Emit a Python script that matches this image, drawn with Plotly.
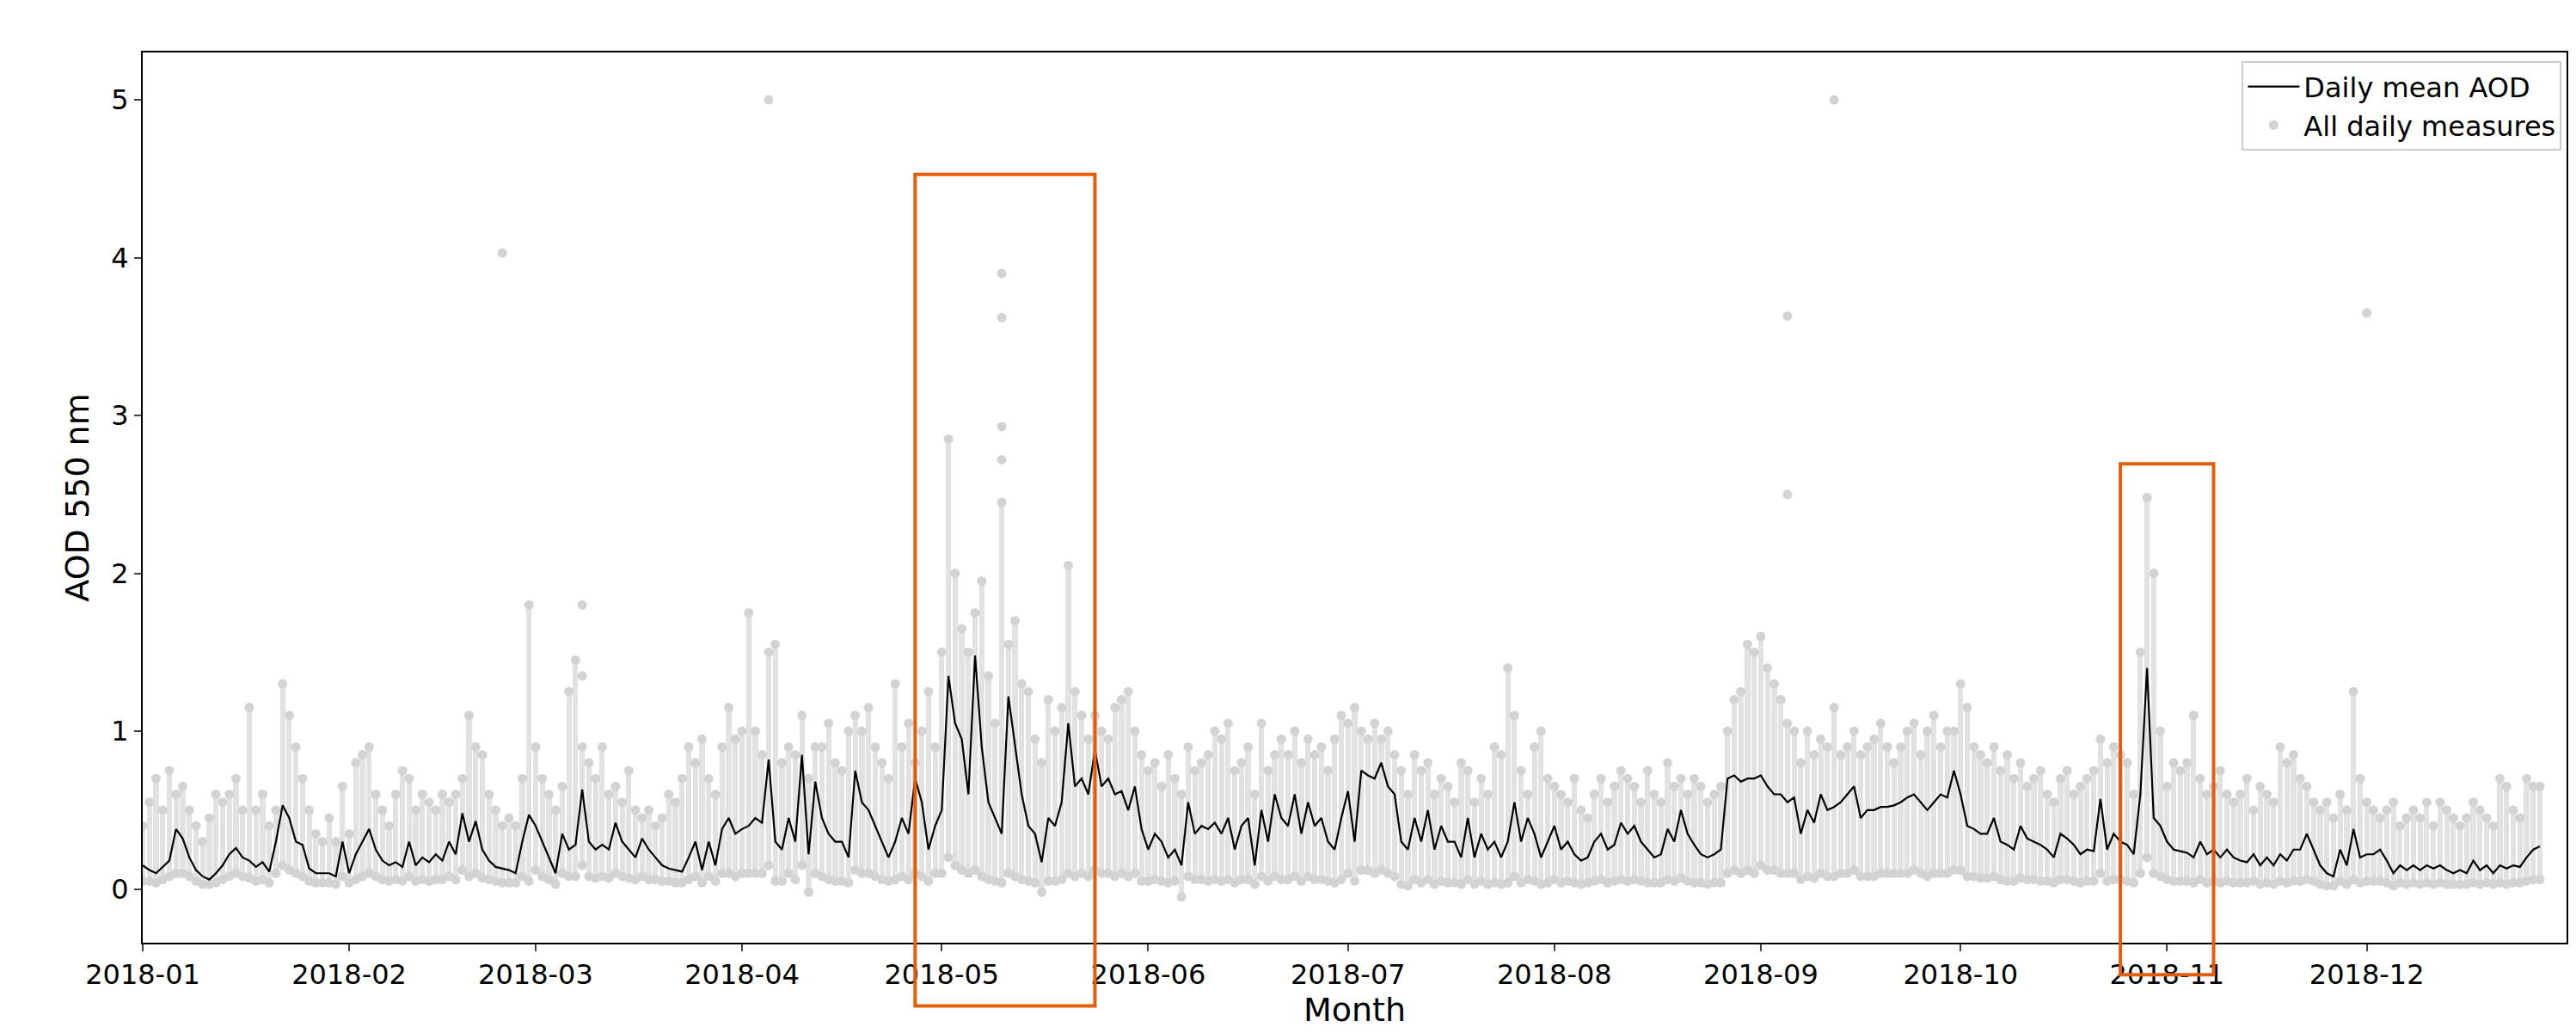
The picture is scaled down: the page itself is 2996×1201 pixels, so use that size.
import numpy as np
import pandas as pd
import plotly.graph_objects as go

# daily mean AOD, month by month
mean_jan = [0.15,0.12,0.10,0.14,0.18,0.38,0.32,0.2,0.12,0.08,0.06,0.1,0.15,0.22,0.26,0.2,0.18,0.14,0.17,0.11,0.3,0.53,0.45,0.3,0.28,0.13,0.1,0.1,0.1,0.08,0.3]
mean_feb = [0.1,0.22,0.3,0.38,0.25,0.18,0.15,0.17,0.14,0.3,0.15,0.2,0.17,0.22,0.18,0.3,0.22,0.48,0.3,0.43,0.25,0.18,0.14,0.13,0.12,0.1,0.3,0.47]
mean_mar = [0.4,0.3,0.2,0.1,0.35,0.25,0.28,0.63,0.3,0.25,0.28,0.25,0.42,0.3,0.25,0.2,0.32,0.25,0.2,0.15,0.13,0.12,0.11,0.2,0.3,0.12,0.3,0.15,0.38,0.45,0.35]
mean_apr = [0.38,0.4,0.45,0.42,0.82,0.3,0.25,0.45,0.3,0.85,0.22,0.68,0.45,0.35,0.3,0.3,0.2,0.75,0.55,0.5,0.4,0.3,0.2,0.3,0.45,0.35,0.7,0.55,0.25,0.4]
mean_may = [0.5,1.35,1.05,0.95,0.6,1.48,0.9,0.55,0.45,0.35,1.22,0.9,0.6,0.4,0.35,0.17,0.45,0.4,0.55,1.05,0.65,0.7,0.6,0.88,0.65,0.7,0.6,0.62,0.5,0.65,0.38]
mean_jun = [0.25,0.35,0.3,0.2,0.25,0.15,0.55,0.35,0.4,0.38,0.42,0.35,0.45,0.25,0.4,0.45,0.15,0.5,0.3,0.6,0.45,0.4,0.6,0.35,0.55,0.4,0.45,0.3,0.25,0.45]
mean_jul = [0.62,0.3,0.75,0.72,0.7,0.8,0.65,0.6,0.3,0.25,0.45,0.3,0.5,0.25,0.4,0.3,0.3,0.2,0.45,0.2,0.35,0.25,0.3,0.2,0.3,0.55,0.3,0.45,0.35,0.2,0.3]
mean_aug = [0.4,0.25,0.3,0.22,0.18,0.2,0.3,0.35,0.25,0.28,0.42,0.35,0.4,0.3,0.25,0.2,0.22,0.38,0.3,0.5,0.35,0.28,0.22,0.2,0.22,0.25,0.7,0.72,0.68,0.7,0.7]
mean_sep = [0.72,0.65,0.6,0.6,0.55,0.58,0.35,0.5,0.42,0.6,0.5,0.52,0.55,0.6,0.65,0.45,0.5,0.5,0.52,0.52,0.53,0.55,0.58,0.6,0.55,0.5,0.55,0.6,0.58,0.75]
mean_oct = [0.6,0.4,0.38,0.35,0.35,0.45,0.3,0.28,0.25,0.4,0.32,0.3,0.28,0.25,0.2,0.35,0.32,0.28,0.22,0.25,0.24,0.57,0.25,0.35,0.3,0.28,0.22,0.6,1.4,0.45,0.4]
mean_nov = [0.3,0.25,0.24,0.23,0.2,0.3,0.22,0.25,0.2,0.25,0.2,0.18,0.17,0.22,0.15,0.2,0.15,0.22,0.18,0.25,0.25,0.35,0.25,0.15,0.1,0.08,0.25,0.15,0.38,0.2]
mean_dec = [0.22,0.22,0.25,0.18,0.1,0.15,0.12,0.15,0.12,0.15,0.13,0.15,0.12,0.1,0.12,0.1,0.18,0.12,0.15,0.1,0.15,0.13,0.15,0.14,0.2,0.25,0.27]

# highest of the daily measures
high_jan = [0.4,0.55,0.7,0.5,0.75,0.6,0.65,0.5,0.4,0.3,0.45,0.6,0.55,0.6,0.7,0.5,1.15,0.5,0.6,0.4,0.5,1.3,1.1,0.9,0.7,0.5,0.35,0.3,0.45,0.3,0.65]
high_feb = [0.35,0.8,0.85,0.9,0.6,0.5,0.4,0.6,0.75,0.7,0.5,0.6,0.55,0.5,0.6,0.55,0.6,0.7,1.1,0.9,0.85,0.6,0.5,0.4,0.45,0.4,0.7,1.8]
high_mar = [0.9,0.7,0.6,0.5,0.65,1.25,1.45,0.9,0.8,0.7,0.9,0.6,0.65,0.55,0.75,0.5,0.45,0.5,0.4,0.45,0.6,0.55,0.7,0.9,0.8,0.95,0.7,0.6,0.9,1.15,0.95]
high_apr = [1.0,1.75,1.0,0.85,1.5,1.55,0.8,0.9,0.85,1.1,0.7,0.9,0.9,1.05,0.8,0.75,1.0,1.1,1.0,1.15,0.9,0.8,0.7,1.3,0.9,1.05,0.8,1.0,1.25,0.9]
high_may = [1.5,2.85,2.0,1.65,1.5,1.75,1.95,1.35,1.05,2.45,1.55,1.7,1.3,1.25,0.95,0.8,1.2,1.0,1.15,2.05,1.25,1.1,0.95,1.1,1.0,0.95,1.15,1.2,1.25,1.0,0.85]
high_jun = [0.75,0.8,0.65,0.85,0.7,0.6,0.9,0.75,0.8,0.85,1.0,0.95,1.05,0.75,0.8,0.9,0.6,1.05,0.75,0.85,0.95,0.85,1.0,0.8,0.95,0.85,0.9,0.75,0.95,1.1]
high_jul = [1.05,1.15,1.0,0.95,1.05,0.95,1.0,0.85,0.75,0.6,0.85,0.75,0.8,0.6,0.7,0.65,0.55,0.8,0.75,0.55,0.7,0.6,0.9,0.85,1.4,1.1,0.75,0.6,0.9,1.0,0.7]
high_aug = [0.65,0.6,0.55,0.7,0.5,0.45,0.6,0.7,0.55,0.65,0.75,0.7,0.65,0.55,0.75,0.6,0.55,0.8,0.65,0.7,0.6,0.7,0.65,0.55,0.6,0.65,1.0,1.2,1.25,1.55,1.5]
high_sep = [1.6,1.4,1.3,1.2,1.05,1.0,0.8,1.0,0.85,0.95,0.9,1.15,0.85,0.9,1.0,0.85,0.9,0.95,1.05,0.9,0.8,0.9,1.0,1.05,0.85,1.0,1.1,0.9,1.0,1.0]
high_oct = [1.3,1.15,0.9,0.85,0.8,0.9,0.75,0.85,0.7,0.8,0.65,0.7,0.75,0.6,0.55,0.7,0.75,0.6,0.65,0.7,0.75,0.95,0.8,0.9,0.85,0.8,0.6,1.5,2.48,2.0,1.0]
high_nov = [0.65,0.8,0.75,0.8,1.1,0.7,0.6,0.65,0.75,0.6,0.55,0.6,0.7,0.5,0.65,0.6,0.55,0.9,0.8,0.85,0.7,0.65,0.55,0.5,0.55,0.45,0.6,0.5,1.25,0.7]
high_dec = [0.55,0.5,0.45,0.5,0.55,0.4,0.45,0.5,0.45,0.55,0.4,0.55,0.5,0.45,0.4,0.45,0.55,0.5,0.45,0.4,0.7,0.65,0.5,0.45,0.7,0.65,0.65]

# lowest of the daily measures
low_jan = [0.05,0.05,0.04,0.06,0.08,0.1,0.1,0.08,0.05,0.03,0.03,0.04,0.06,0.08,0.1,0.08,0.07,0.05,0.06,0.04,0.1,0.15,0.12,0.1,0.08,0.05,0.04,0.04,0.04,0.03,0.08]
low_feb = [0.04,0.06,0.08,0.1,0.08,0.06,0.05,0.06,0.05,0.08,0.05,0.06,0.05,0.06,0.06,0.08,0.06,0.12,0.08,0.1,0.07,0.06,0.05,0.04,0.04,0.04,0.08,0.05]
low_mar = [0.12,0.08,0.06,0.03,0.1,0.08,0.08,0.15,0.08,0.07,0.08,0.07,0.1,0.08,0.07,0.06,0.08,0.06,0.06,0.05,0.05,0.04,0.04,0.06,0.08,0.04,0.08,0.05,0.1,0.1,0.08]
low_apr = [0.1,0.1,0.1,0.1,0.15,0.05,0.05,0.1,0.06,0.15,-0.02,0.1,0.08,0.06,0.05,0.05,0.04,0.12,0.1,0.1,0.08,0.06,0.05,0.06,0.08,0.06,0.1,0.08,0.05,0.1]
low_may = [0.1,0.2,0.15,0.12,0.1,0.12,0.08,0.06,0.05,0.04,0.1,0.08,0.06,0.05,0.04,-0.02,0.05,0.05,0.06,0.1,0.08,0.1,0.08,0.12,0.1,0.1,0.08,0.1,0.08,0.1,0.05]
low_jun = [0.05,0.06,0.05,0.04,0.05,-0.05,0.08,0.06,0.06,0.05,0.06,0.05,0.06,0.04,0.06,0.06,0.03,0.08,0.05,0.08,0.06,0.06,0.08,0.05,0.08,0.06,0.06,0.05,0.04,0.06]
low_jul = [0.1,0.05,0.12,0.12,0.1,0.12,0.1,0.08,0.03,0.02,0.06,0.04,0.06,0.03,0.05,0.04,0.04,0.03,0.06,0.03,0.05,0.03,0.04,0.03,0.04,0.08,0.04,0.06,0.05,0.03,0.04]
low_aug = [0.06,0.04,0.05,0.04,0.03,0.04,0.05,0.06,0.04,0.05,0.06,0.05,0.06,0.05,0.04,0.04,0.04,0.06,0.05,0.07,0.05,0.04,0.04,0.03,0.04,0.04,0.1,0.12,0.1,0.12,0.1]
low_sep = [0.15,0.12,0.12,0.1,0.1,0.1,0.06,0.08,0.07,0.1,0.08,0.08,0.1,0.1,0.12,0.08,0.08,0.08,0.1,0.1,0.1,0.1,0.1,0.12,0.1,0.08,0.1,0.1,0.1,0.12]
low_oct = [0.12,0.08,0.08,0.07,0.07,0.08,0.06,0.05,0.05,0.07,0.06,0.06,0.05,0.05,0.04,0.06,0.06,0.05,0.04,0.05,0.05,0.1,0.05,0.06,0.06,0.05,0.04,0.1,0.2,0.1,0.08]
low_nov = [0.06,0.05,0.05,0.05,0.04,0.06,0.04,0.05,0.04,0.05,0.04,0.04,0.04,0.05,0.03,0.04,0.03,0.05,0.04,0.05,0.05,0.06,0.05,0.03,0.02,0.02,0.05,0.03,0.06,0.04]
low_dec = [0.05,0.05,0.05,0.04,0.02,0.04,0.03,0.04,0.03,0.04,0.03,0.04,0.03,0.03,0.03,0.03,0.04,0.03,0.04,0.03,0.04,0.03,0.04,0.04,0.05,0.06,0.06]

# isolated high measures
outlier_dates = ["2018-02-24", "2018-04-05", "2018-05-10", "2018-05-10", "2018-05-10", "2018-05-10",
                 "2018-09-05", "2018-09-05", "2018-09-12", "2018-12-01", "2018-03-08", "2018-03-08"]
outlier_values = [4.03, 5.0, 3.9, 3.62, 2.93, 2.72, 3.63, 2.5, 5.0, 3.65, 1.8, 1.35]

mean_aod = np.array(mean_jan + mean_feb + mean_mar + mean_apr + mean_may + mean_jun +
                    mean_jul + mean_aug + mean_sep + mean_oct + mean_nov + mean_dec)
high_aod = np.array(high_jan + high_feb + high_mar + high_apr + high_may + high_jun +
                    high_jul + high_aug + high_sep + high_oct + high_nov + high_dec)
low_aod = np.array(low_jan + low_feb + low_mar + low_apr + low_may + low_jun +
                   low_jul + low_aug + low_sep + low_oct + low_nov + low_dec)
days = pd.date_range("2018-01-01", periods=len(mean_aod), freq="D")

grey = "#d3d3d3"
fig = go.Figure()
# spread of daily measures drawn as a column per day
fig.add_trace(go.Bar(x=days, y=high_aod - low_aod, base=low_aod,
                     width=0.8 * 86400000, marker=dict(color="#e2e2e2", line=dict(width=0)),
                     showlegend=False, hoverinfo="skip"))
fig.add_trace(go.Scatter(x=list(days) + list(days) + outlier_dates,
                         y=list(high_aod) + list(low_aod) + outlier_values,
                         mode="markers", marker=dict(color=grey, size=11),
                         name="All daily measures"))
fig.add_trace(go.Scatter(x=days, y=mean_aod, mode="lines",
                         line=dict(color="black", width=2.2), name="Daily mean AOD"))

# highlighted episodes
orange = "#e35d0a"
fig.add_shape(type="rect", xref="x", yref="paper", x0="2018-04-27", x1="2018-05-24",
              y0=-0.071, y1=0.863, line=dict(color=orange, width=4))
fig.add_shape(type="rect", xref="x", yref="paper", x0="2018-10-25", x1="2018-11-08",
              y0=-0.036, y1=0.538, line=dict(color=orange, width=4))

tickvals = pd.date_range("2018-01-01", "2018-12-01", freq="MS")
fig.update_layout(
    width=2996, height=1201,
    margin=dict(l=158, r=19, t=53, b=113),
    plot_bgcolor="white", paper_bgcolor="white",
    font=dict(family="DejaVu Sans", size=32, color="black"),
    bargap=0,
    legend=dict(x=0.998, y=0.99, xanchor="right", yanchor="top", traceorder="reversed",
                bordercolor="#cccccc", borderwidth=2, bgcolor="white", font=dict(size=32),
                itemwidth=60),
    xaxis=dict(range=["2018-01-01", "2018-12-31"], tickvals=tickvals,
               ticktext=[d.strftime("%Y-%m") for d in tickvals],
               showgrid=False, showline=True, linecolor="black", linewidth=2, mirror=True,
               ticks="outside", ticklen=8, tickwidth=2, title=dict(text="Month", standoff=4)),
    yaxis=dict(range=[-0.34, 5.3], tickvals=[0, 1, 2, 3, 4, 5], showgrid=False, zeroline=False,
               showline=True, linecolor="black", linewidth=2, mirror=True,
               ticks="outside", ticklen=8, tickwidth=2, title=dict(text="AOD 550 nm", standoff=14)),
)
fig.write_html("out.html")
